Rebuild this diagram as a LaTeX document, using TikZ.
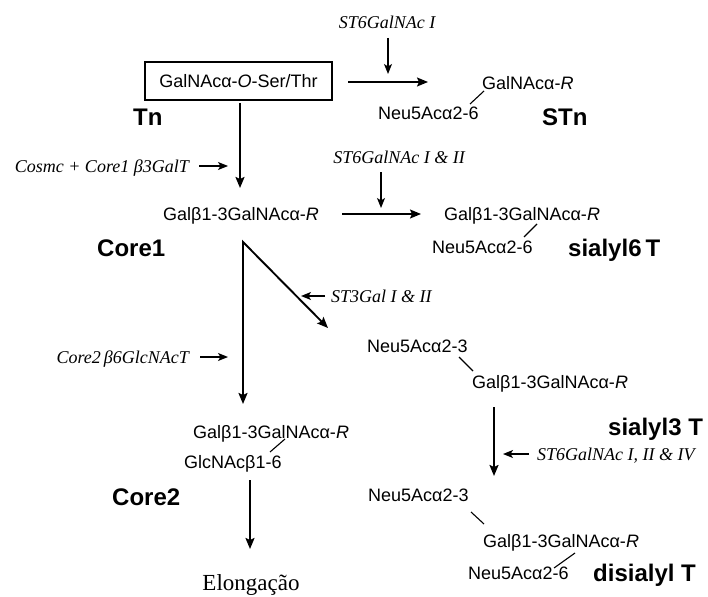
\documentclass[tikz,border=0pt]{standalone}
\usepackage{fontspec}
\setmainfont{Liberation Serif}
\setsansfont{Liberation Sans}
\usetikzlibrary{arrows.meta}
\begin{document}
\begin{tikzpicture}[x=1pt,y=-1pt,
  sug/.style={inner sep=0pt,font=\sffamily\fontsize{18}{20}\selectfont},
  lbl/.style={inner sep=0pt,font=\sffamily\bfseries\fontsize{24}{26}\selectfont},
  enz/.style={inner sep=0pt,font=\itshape\fontsize{18}{20}\selectfont},
  mainarr/.style={line width=1.9pt,-{Stealth[length=11pt,width=9pt,inset=2pt]}},
  enzarr/.style={line width=1.3pt,-{Stealth[length=10pt,width=8pt,inset=2.5pt]}},
  link/.style={line width=1.1pt},
  boxnode/.style={draw,line width=1.2pt,inner sep=0pt,minimum width=187pt,minimum height=38pt,
    font=\sffamily\fontsize{18}{20}\selectfont}]
\useasboundingbox (0,0) rectangle (708,596);

% Tn
\node[boxnode] (tn) at (238.5,81) {GalNAcα-\textit{O}-Ser/Thr};
\node[lbl,anchor=base west] (tnl) at (133,126) {Tn};

% STn
\node[enz,anchor=base] (e1) at (387,29) {ST6GalNAc I};
\node[sug,anchor=base west] (stn1) at (482,89.5) {GalNAcα-\textit{R}};
\node[sug,anchor=base west] (stn2) at (378,119.5) {Neu5Acα2-6};
\node[lbl,anchor=base west] (stnl) at (542,126) {STn};

% Core1
\node[enz,anchor=base east] (e2) at (189,172) {Cosmc + Core1 β3GalT};
\node[sug,anchor=base west] (c1) at (163,220.5) {Galβ1-3GalNAcα-\textit{R}};
\node[lbl,anchor=base west] (c1l) at (97,256) {Core1};

% sialyl6 T
\node[enz,anchor=base] (e3) at (399,163) {ST6GalNAc I \& II};
\node[sug,anchor=base west] (s6a) at (444,220.5) {Galβ1-3GalNAcα-\textit{R}};
\node[sug,anchor=base west] (s6b) at (432,253.5) {Neu5Acα2-6};
\node[lbl,anchor=base west] (s6l) at (568,256) {sialyl6\,T};

% sialyl3 T
\node[enz,anchor=base west] (e4) at (331,302) {ST3Gal I \& II};
\node[sug,anchor=base west] (s3a) at (367,352.5) {Neu5Acα2-3};
\node[sug,anchor=base west] (s3b) at (472,388.5) {Galβ1-3GalNAcα-\textit{R}};
\node[lbl,anchor=base west] (s3l) at (608,435) {sialyl3 T};

% Core2
\node[enz,anchor=base east] (e5) at (189,363) {Core2\,β6GlcNAcT};
\node[sug,anchor=base west] (c2a) at (193,438.5) {Galβ1-3GalNAcα-\textit{R}};
\node[sug,anchor=base west] (c2b) at (184,468.5) {GlcNAcβ1-6};
\node[lbl,anchor=base west] (c2l) at (112,505) {Core2};
\node[inner sep=0pt,anchor=base,font=\fontsize{23}{25}\selectfont] (elo) at (251,590.5) {Elongação};

% disialyl T
\node[enz,anchor=base west] (e6) at (537,460) {ST6GalNAc I, II \& IV};
\node[sug,anchor=base west] (d1) at (368,501.5) {Neu5Acα2-3};
\node[sug,anchor=base west] (d2) at (483,547.5) {Galβ1-3GalNAcα-\textit{R}};
\node[sug,anchor=base west] (d3) at (468,579.5) {Neu5Acα2-6};
\node[lbl,anchor=base west] (dl) at (593,581) {disialyl T};

% coordinates
\coordinate (tnS) at (240,103);
\coordinate (c1N) at (240,188);
\coordinate (tnE) at (348,82);
\coordinate (stnW) at (428,82);
\coordinate (e1S) at (388,38);
\coordinate (e1T) at (388,74);
\coordinate (e2E) at (199,166);
\coordinate (e2T) at (228,166);
\coordinate (c1E) at (342,214);
\coordinate (s6W) at (421,214);
\coordinate (e3S) at (381,172);
\coordinate (e3T) at (381,208);
\coordinate (apex) at (243,242);
\coordinate (s3tip) at (328,328);
\coordinate (c2tip) at (243,404);
\coordinate (e4W) at (325,296);
\coordinate (e4T) at (301,296);
\coordinate (e5E) at (200,357);
\coordinate (e5T) at (228,357);
\coordinate (s3S) at (494,407);
\coordinate (dN) at (494,476);
\coordinate (e6W) at (529,454);
\coordinate (e6T) at (503,454);
\coordinate (c2S) at (250,480);
\coordinate (eloN) at (250,549);

% links
\draw[link] (470,104) -- (484,91);
\draw[link] (524,237) -- (537,224);
\draw[link] (459,357) -- (473,371);
\draw[link] (270,452) -- (285,439);
\draw[link] (471,512) -- (484,524);
\draw[link] (554,568) -- (575,553);

% main arrows
\draw[mainarr] (tnS) -- (c1N);
\draw[mainarr,line width=1.5pt] (tnE) -- (stnW);
\draw[mainarr,line width=1.5pt] (c1E) -- (s6W);
\draw[line width=1.9pt,line join=miter,{Stealth[length=11pt,width=9pt,inset=2pt]}-{Stealth[length=11pt,width=9pt,inset=2pt]}] (s3tip) -- (apex) -- (c2tip);
\draw[mainarr] (s3S) -- (dN);
\draw[mainarr] (c2S) -- (eloN);

% enzyme arrows
\draw[enzarr] (e1S) -- (e1T);
\draw[enzarr] (e2E) -- (e2T);
\draw[enzarr] (e3S) -- (e3T);
\draw[enzarr] (e4W) -- (e4T);
\draw[enzarr] (e5E) -- (e5T);
\draw[enzarr] (e6W) -- (e6T);
\end{tikzpicture}
\end{document}
